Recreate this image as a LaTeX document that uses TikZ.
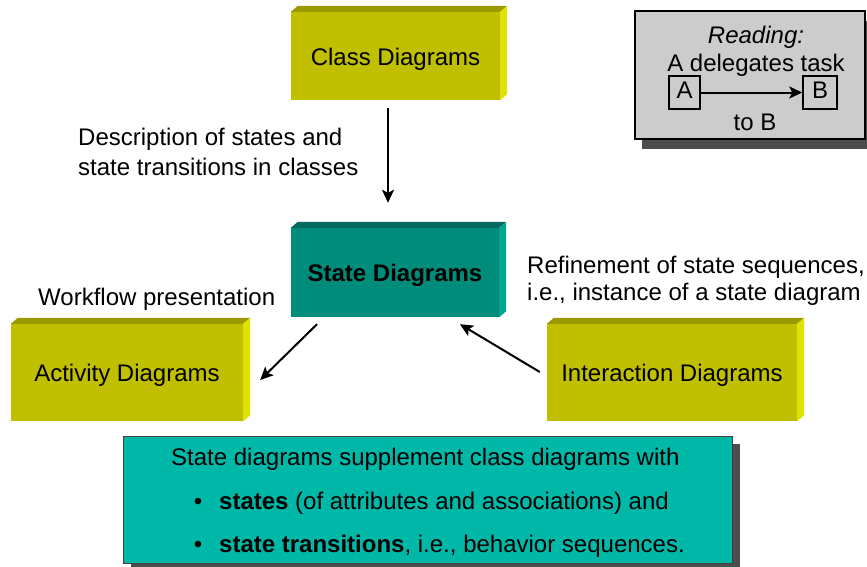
\documentclass[tikz,border=0pt]{standalone}
\usepackage{fontspec}
\setmainfont{Liberation Sans}
\usetikzlibrary{arrows.meta,calc}

\definecolor{olivefront}{HTML}{C0C000}
\definecolor{olivetop}{HTML}{9A9A00}
\definecolor{oliveside}{HTML}{E2E200}
\definecolor{tealfront}{HTML}{008C7A}
\definecolor{tealtop}{HTML}{006B5E}
\definecolor{tealside}{HTML}{00A690}
\definecolor{notefill}{HTML}{00B8A8}
\definecolor{legendfill}{HTML}{CCCCCC}
\definecolor{shadowgray}{HTML}{4D4D4D}

% top and right faces of an extruded block
\newcommand\extrudeblock[3]{%
  \fill[#2] (#1.north west) -- ++(7,-6) -- ($(#1.north east)+(7,-6)$) -- (#1.north east) -- cycle;
  \fill[#3] (#1.north east) -- ++(7,-6) -- ($(#1.south east)+(7,-6)$) -- (#1.south east) -- cycle;}

\begin{document}
\begin{tikzpicture}[x=1pt,y=-1pt,
  txt/.style={font=\fontsize{24}{28}\selectfont, inner sep=0pt, text height=17pt, text depth=5pt},
  block/.style={txt, fill=olivefront, text height=20pt, text depth=2pt},
  keyblock/.style={block, fill=tealfront, font=\fontsize{24}{28}\selectfont\bfseries},
  conn/.style={line width=2pt, -{Stealth[length=13pt,width=12pt,inset=3pt]}},
  smallbox/.style={txt, draw=black, line width=1.5pt, minimum height=33pt},
]
\useasboundingbox (0,0) rectangle (867,566);

% blocks
\node[block, minimum width=209pt, minimum height=88pt] (class) at (395.5,56) {Class Diagrams};
\extrudeblock{class}{olivetop}{oliveside}
\node[keyblock, minimum width=208pt, minimum height=89pt] (state) at (395,272.5) {State Diagrams};
\extrudeblock{state}{tealtop}{tealside}
\node[block, minimum width=232pt, minimum height=97pt] (activity) at (127,372.5) {Activity Diagrams};
\extrudeblock{activity}{olivetop}{oliveside}
\node[block, minimum width=250pt, minimum height=97pt] (interaction) at (672,372.5) {Interaction Diagrams};
\extrudeblock{interaction}{olivetop}{oliveside}

% connectors
\draw[conn] ($(class.south)+(-7.5,8)$) -- ($(state.north)+(-7,-25)$);
\draw[conn] ($(state.south)+(-78,7)$) -- ($(activity.east)+(17,7.5)$);
\draw[conn] ($(interaction.west)+(-7,-0.5)$) -- ($(state.south)+(65,7)$);

% connector labels
\node[txt, anchor=west, align=left, text height=, text depth=, font=\fontsize{24}{29.5}\selectfont] (desc) at (78,152)
  {Description of states and\\state transitions in classes};
\node[txt, anchor=west] (workflow) at (38,299) {Workflow presentation};
\node[txt, anchor=west, align=left, text height=, text depth=, font=\fontsize{24}{27}\selectfont] (refine) at (527,281)
  {Refinement of state sequences,\\i.e., instance of a state diagram};

% reading key
\fill[shadowgray] (642,21) rectangle (875,149);
\node[draw=black, line width=1.5pt, fill=legendfill, minimum width=230pt, minimum height=128pt, inner sep=0pt] (legend) at (750,75) {};
\node[txt, font=\fontsize{24}{28}\selectfont\itshape] (reading) at (756,37) {Reading:};
\node[txt] (delegates) at (756,65) {A delegates task};
\node[smallbox, minimum width=31pt] (a) at (684.5,92.5) {A};
\node[smallbox, minimum width=34pt] (b) at (820,92.5) {B};
\draw[line width=2pt, -{Stealth[length=13pt,width=12pt,inset=3pt]}] (a.east) -- (b.west);
\node[txt] (tob) at (755,124) {to B};

% summary note
\fill[shadowgray] (131,444) rectangle (740,571);
\node[draw=black!75, line width=1pt, fill=notefill, minimum width=609pt, minimum height=127pt, inner sep=0pt] (note) at (427.5,499.5) {};
\node[txt, anchor=west] (line1) at (171,459) {State diagrams supplement class diagrams with};
\node[txt] (bullet1) at (198,503) {\textbullet};
\node[txt, anchor=west] (line2) at (219,503) {\textbf{states} (of attributes and associations) and};
\node[txt] (bullet2) at (198,546) {\textbullet};
\node[txt, anchor=west] (line3) at (219,546) {\textbf{state transitions}, i.e., behavior sequences.};
\end{tikzpicture}
\end{document}
